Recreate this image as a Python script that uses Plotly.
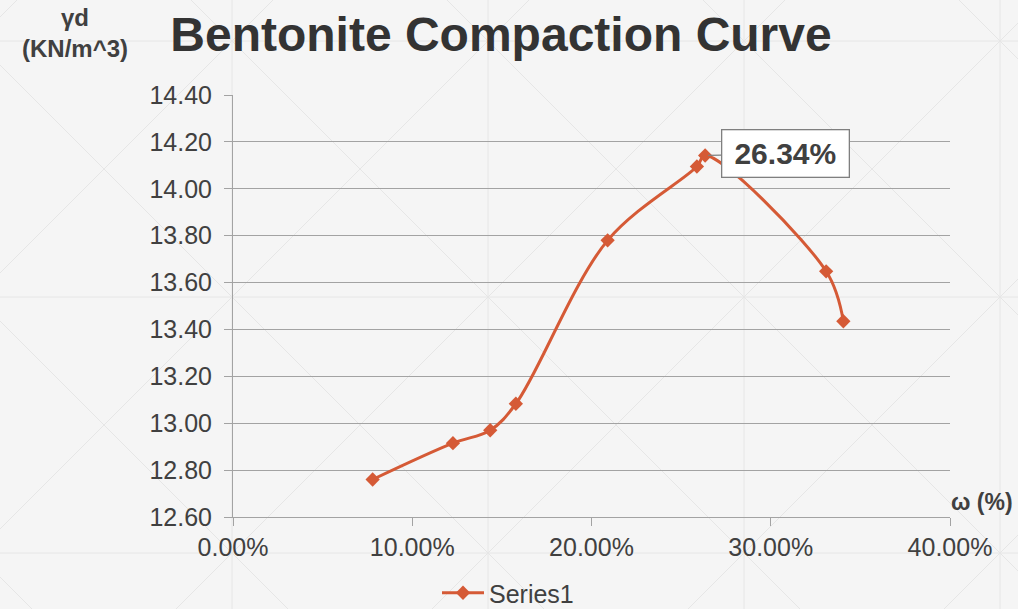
import plotly.graph_objects as go

# Compaction test results
water_content = [0.0779, 0.1227, 0.1435, 0.1578, 0.2090, 0.2588, 0.2634, 0.3309, 0.3405]
dry_unit_weight = [12.76, 12.915, 12.97, 13.083, 13.78, 14.095, 14.142, 13.648, 13.435]
x_ticks = [0.0, 0.1, 0.2, 0.3, 0.4]
y_ticks = [12.6, 12.8, 13.0, 13.2, 13.4, 13.6, 13.8, 14.0, 14.2, 14.4]

W, H = 1018, 609
L, R, T, B = 233, 68, 95, 92
PW, PH = W - L - R, H - T - B

LINE = "#d55a36"
GRID = "#a3a3a3"
TEXT = "#404040"
FONT = "Liberation Sans, Arial, sans-serif"


def px_to_paper(px, py):
    return (px - L) / PW, (H - B - py) / PH


fig = go.Figure()
fig.add_trace(go.Scatter(
    x=water_content, y=dry_unit_weight, name="Series1",
    mode="lines+markers",
    line=dict(color=LINE, width=3, shape="spline", smoothing=1.0),
    marker=dict(symbol="diamond", size=11, color=LINE),
))

# faint diamond lattice in the page background
shapes = []
pat = dict(color="#e6e6e6", width=1)
for k in range(-1, 5):
    x0, _ = px_to_paper(232 + 256 * k, 0)
    shapes.append(dict(type="line", xref="paper", yref="paper", x0=x0, x1=x0,
                       y0=px_to_paper(0, H)[1], y1=px_to_paper(0, 0)[1], line=pat, layer="below"))
for k in range(-1, 3):
    _, y0 = px_to_paper(0, 41 + 256 * k)
    shapes.append(dict(type="line", xref="paper", yref="paper", y0=y0, y1=y0,
                       x0=px_to_paper(0, 0)[0], x1=px_to_paper(W, 0)[0], line=pat, layer="below"))
for k in range(-2, 8):
    s = 17 + 256 * k          # x + y = s
    a = px_to_paper(s - 0, 0)
    b = px_to_paper(s - 700, 700)
    shapes.append(dict(type="line", xref="paper", yref="paper", x0=a[0], y0=a[1],
                       x1=b[0], y1=b[1], line=pat, layer="below"))
for k in range(-4, 6):
    d = 191 + 256 * k         # x - y = d
    a = px_to_paper(d + 0, 0)
    b = px_to_paper(d + 700, 700)
    shapes.append(dict(type="line", xref="paper", yref="paper", x0=a[0], y0=a[1],
                       x1=b[0], y1=b[1], line=pat, layer="below"))

# label on the maximum dry unit weight point
i_max = max(range(len(dry_unit_weight)), key=lambda i: dry_unit_weight[i])
annotations = [
    dict(x=water_content[i_max], y=dry_unit_weight[i_max], xref="x", yref="y",
         text=f"<b>{water_content[i_max] * 100:.2f}%</b>",
         font=dict(family=FONT, size=30, color=TEXT),
         showarrow=True, arrowhead=0, arrowwidth=1.3, arrowcolor="#7f7f7f",
         ax=80, ay=-2, standoff=3,
         bgcolor="white", bordercolor="#7f7f7f", borderwidth=1.3,
         borderpad=4, width=118, height=38),
    dict(text="<b>γd<br>(KN/m^3)</b>", xref="paper", yref="paper",
         x=px_to_paper(75, 0)[0], y=px_to_paper(0, 33)[1],
         xanchor="center", yanchor="middle", showarrow=False,
         font=dict(family=FONT, size=24, color=TEXT)),
    dict(text="<b>ω (%)</b>", xref="paper", yref="paper",
         x=px_to_paper(982, 0)[0], y=px_to_paper(0, 502)[1],
         xanchor="center", yanchor="middle", showarrow=False,
         font=dict(family=FONT, size=23, color=TEXT)),
]

fig.update_layout(
    width=W, height=H,
    margin=dict(l=L, r=R, t=T, b=B, autoexpand=False),
    paper_bgcolor="#f5f5f5", plot_bgcolor="rgba(0,0,0,0)",
    title=dict(text="<b>Bentonite Compaction Curve</b>", x=px_to_paper(501, 0)[0],
               xref="paper", xanchor="center", y=1 - 34 / H, yanchor="middle",
               font=dict(family=FONT, size=48, color="#333333")),
    font=dict(family=FONT, size=25, color=TEXT),
    showlegend=True,
    legend=dict(orientation="h", x=px_to_paper(437, 0)[0], xanchor="left",
                y=px_to_paper(0, 593)[1], yanchor="middle", itemwidth=42,
                font=dict(family=FONT, size=25, color=TEXT), bgcolor="rgba(0,0,0,0)"),
    shapes=shapes,
    annotations=annotations,
)
fig.update_xaxes(range=[0, 0.4], tickvals=x_ticks, tickformat=".2%",
                 showgrid=False, zeroline=False, showline=True, linecolor=GRID, linewidth=1,
                 ticks="outside", ticklen=8, tickcolor=GRID, tickfont=dict(size=25, color=TEXT))
fig.update_yaxes(range=[12.6, 14.4], tickvals=y_ticks, tickformat=".2f",
                 showgrid=True, gridcolor=GRID, gridwidth=1, zeroline=False,
                 showline=True, linecolor=GRID, linewidth=1, ticklabelstandoff=7,
                 ticks="outside", ticklen=8, tickcolor=GRID, tickfont=dict(size=25, color=TEXT))

fig.write_html("out.html")
